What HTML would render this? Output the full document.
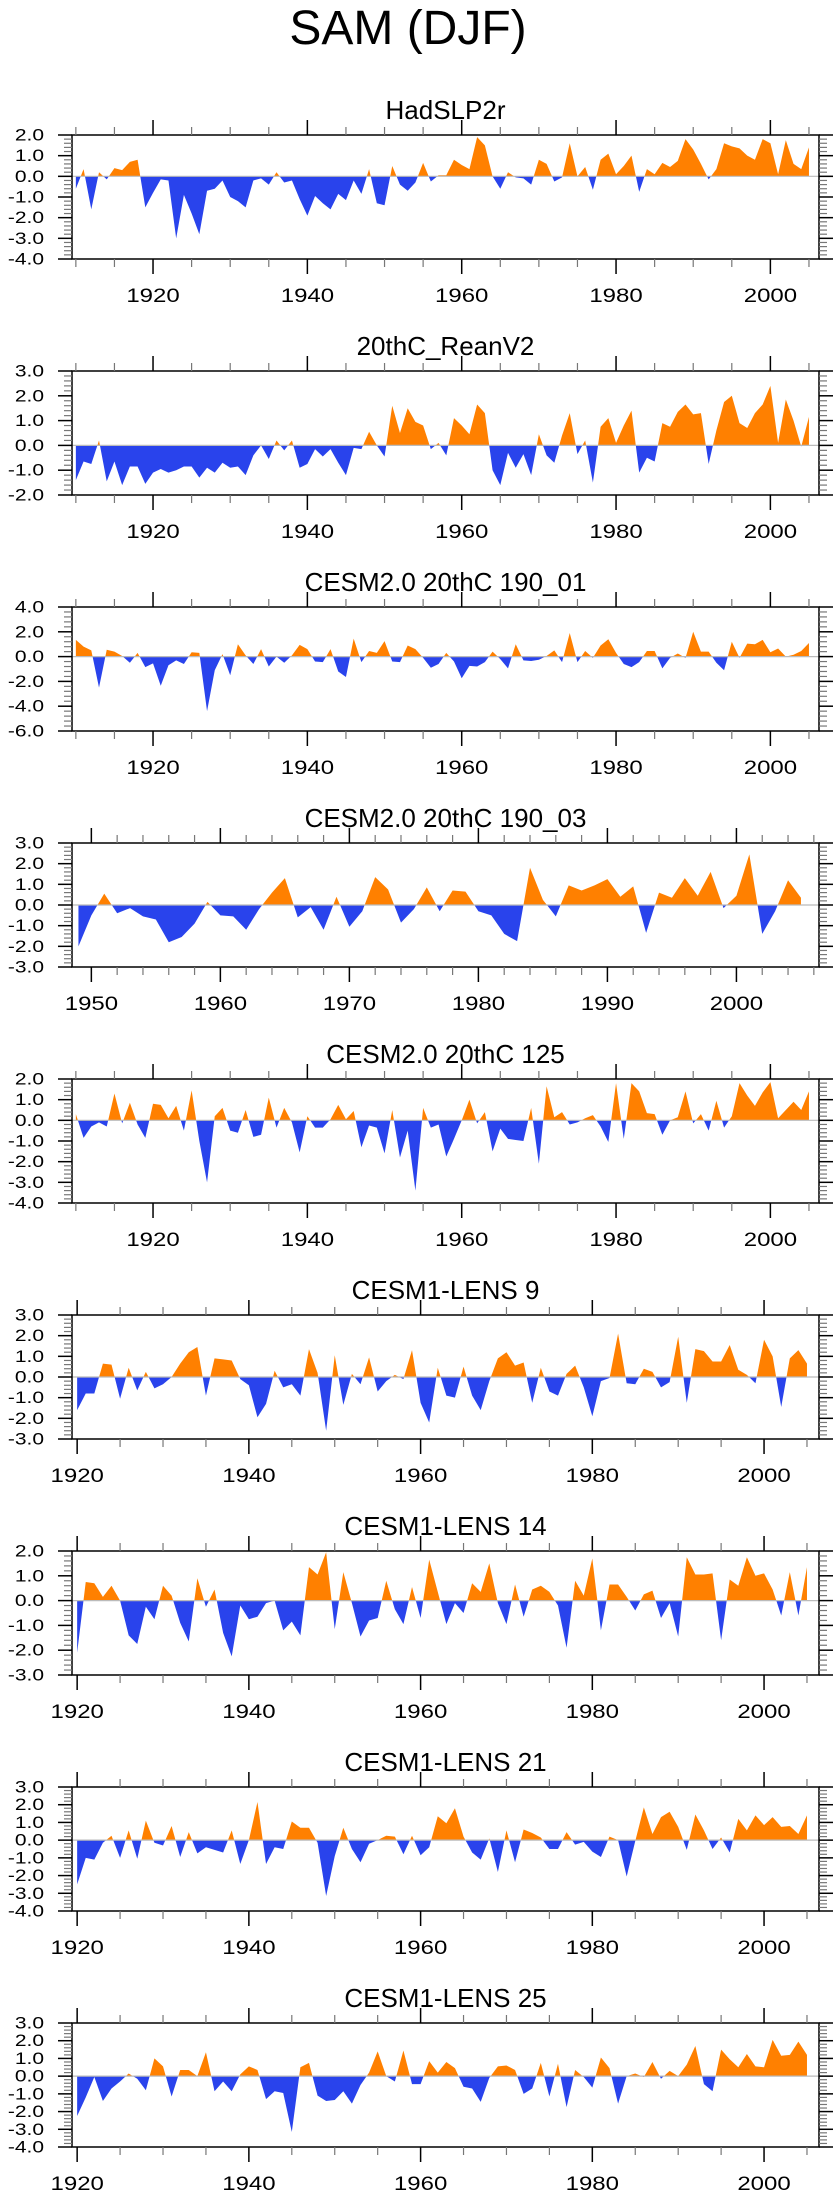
<!DOCTYPE html>
<html><head><meta charset="utf-8">
<style>
html,body{margin:0;padding:0;background:#fff;}
svg{display:block;font-family:"Liberation Sans",Arial,sans-serif;}
</style></head>
<body>
<svg id="chart" width="840" height="2200" viewBox="0 0 840 2200" xmlns="http://www.w3.org/2000/svg">
<text x="408" y="44" font-size="48" text-anchor="middle" fill="#000">SAM (DJF)</text>
</svg>
<script>
// ---- data (index values by year) ----
const hadslp2rStart = 1910;
const hadslp2r = [-0.6,0.35,-1.6,0.2,-0.15,0.4,0.3,0.7,0.8,-1.5,-0.8,-0.15,-0.2,-3.0,-0.9,-1.8,-2.8,-0.7,-0.6,-0.2,-1.0,-1.2,-1.5,-0.2,-0.1,-0.4,0.2,-0.3,-0.2,-1.1,-1.9,-0.95,-1.3,-1.6,-0.85,-1.15,-0.2,-0.85,0.35,-1.3,-1.4,0.5,-0.4,-0.7,-0.3,0.65,-0.25,0.05,0.05,0.8,0.55,0.35,1.9,1.5,0.0,-0.6,0.2,-0.05,-0.1,-0.4,0.8,0.6,-0.25,-0.05,1.6,0.0,0.45,-0.65,0.8,1.1,0.1,0.5,1.0,-0.75,0.35,0.1,0.65,0.45,0.75,1.8,1.3,0.6,-0.15,0.35,1.6,1.45,1.35,1.0,0.8,1.8,1.6,0.1,1.75,0.6,0.35,1.4];
const reanV2Start = 1910;
const reanV2 = [-1.4,-0.65,-0.75,0.2,-1.45,-0.65,-1.6,-0.85,-0.85,-1.55,-1.1,-0.95,-1.1,-1.0,-0.85,-0.85,-1.3,-0.9,-1.1,-0.7,-0.9,-0.85,-1.2,-0.4,0.0,-0.55,0.2,-0.2,0.2,-0.9,-0.75,-0.15,-0.45,-0.15,-0.7,-1.2,-0.1,-0.15,0.55,0.0,-0.45,1.6,0.5,1.5,0.95,0.8,-0.15,0.1,-0.4,1.1,0.8,0.45,1.65,1.3,-1.0,-1.6,-0.3,-0.9,-0.35,-1.2,0.45,-0.4,-0.7,0.4,1.3,-0.35,0.2,-1.5,0.75,1.1,0.1,0.8,1.4,-1.1,-0.5,-0.65,0.9,0.75,1.35,1.65,1.25,1.3,-0.75,0.6,1.75,2.0,0.9,0.7,1.3,1.65,2.4,0.1,1.85,1.0,-0.05,1.15];
const cesm2r01Start = 1910;
const cesm2r01 = [1.35,0.8,0.5,-2.5,0.55,0.4,0.05,-0.5,0.3,-0.85,-0.55,-2.35,-0.7,-0.3,-0.6,0.35,0.3,-4.4,-1.1,0.2,-1.5,1.0,0.1,-0.6,0.6,-0.8,0.0,-0.5,0.1,0.95,0.6,-0.4,-0.45,0.6,-1.2,-1.65,1.45,-0.45,0.45,0.3,1.25,-0.4,-0.45,0.9,0.6,-0.1,-0.9,-0.6,0.3,-0.4,-1.75,-0.75,-0.8,-0.45,0.4,-0.2,-0.95,1.0,-0.3,-0.35,-0.25,0.05,0.5,-0.45,1.9,-0.45,0.45,-0.1,0.9,1.4,0.3,-0.6,-0.85,-0.45,0.45,0.45,-0.95,-0.1,0.25,-0.1,2.0,0.4,0.4,-0.5,-1.1,1.2,-0.1,1.05,1.0,1.35,0.35,0.65,0.0,0.15,0.45,1.1];
const cesm2r03Start = 1949;
const cesm2r03 = [-2.0,-0.5,0.55,-0.4,-0.15,-0.55,-0.7,-1.8,-1.55,-0.9,0.15,-0.5,-0.55,-1.2,-0.2,0.6,1.3,-0.6,-0.1,-1.2,0.4,-1.05,-0.3,1.35,0.75,-0.85,-0.2,0.85,-0.3,0.7,0.65,-0.3,-0.5,-1.4,-1.75,1.8,0.25,-0.55,0.95,0.7,0.95,1.25,0.4,0.9,-1.35,0.6,0.35,1.3,0.45,1.6,-0.15,0.45,2.45,-1.4,-0.3,1.2,0.35];
const cesm2m125Start = 1910;
const cesm2m125 = [0.3,-0.85,-0.3,-0.1,-0.3,1.3,-0.15,0.85,-0.2,-0.85,0.8,0.75,0.1,0.7,-0.5,1.45,-1.0,-3.0,0.2,0.6,-0.5,-0.6,0.5,-0.8,-0.7,1.1,-0.35,0.6,-0.1,-1.55,0.2,-0.35,-0.35,0.05,0.75,0.05,0.45,-1.3,-0.25,-0.35,-1.6,0.5,-1.8,-0.5,-3.4,0.6,-0.35,-0.2,-1.75,-0.9,0.0,1.0,-0.15,0.4,-1.5,-0.4,-0.9,-0.95,-1.0,0.6,-2.1,1.65,0.15,0.4,-0.2,-0.1,0.1,0.25,-0.3,-1.05,1.8,-0.9,1.8,1.4,0.35,0.3,-0.7,0.0,0.15,1.4,-0.15,0.3,-0.5,0.95,-0.35,0.2,1.8,1.2,0.7,1.35,1.85,0.1,0.5,0.9,0.5,1.4];
const lens9Start = 1920;
const lens9 = [-1.6,-0.8,-0.8,0.65,0.6,-1.05,0.45,-0.65,0.25,-0.55,-0.35,0.0,0.65,1.2,1.45,-0.9,0.9,0.85,0.8,-0.1,-0.4,-1.95,-1.3,0.3,-0.5,-0.35,-0.9,1.35,0.2,-2.6,1.05,-1.35,0.15,-0.35,0.95,-0.7,-0.2,0.1,-0.1,1.3,-1.25,-2.2,0.45,-0.9,-1.0,0.5,-0.9,-1.6,-0.2,0.9,1.2,0.55,0.7,-1.25,0.45,-0.7,-0.9,0.15,0.55,-0.5,-1.9,-0.2,-0.05,2.1,-0.3,-0.35,0.4,0.25,-0.5,-0.25,1.95,-1.25,1.35,1.25,0.75,0.75,1.55,0.35,0.1,-0.3,1.8,1.0,-1.45,0.9,1.3,0.65];
const lens14Start = 1920;
const lens14 = [-2.1,0.75,0.7,0.15,0.6,0.0,-1.4,-1.75,-0.25,-0.75,0.6,0.2,-0.9,-1.65,0.9,-0.25,0.45,-1.3,-2.25,-0.2,-0.75,-0.65,-0.1,0.0,-1.2,-0.85,-1.4,1.35,1.05,1.95,-1.15,1.15,-0.1,-1.45,-0.8,-0.7,0.8,-0.35,-0.95,0.55,-0.7,1.65,0.35,-0.95,-0.1,-0.5,0.7,0.35,1.5,-0.1,-0.95,0.65,-0.65,0.45,0.6,0.35,-0.2,-1.9,0.8,0.2,1.7,-1.2,0.65,0.65,0.15,-0.4,0.25,0.4,-0.7,-0.1,-1.45,1.75,1.05,1.05,1.1,-1.6,0.85,0.6,1.75,1.0,1.1,0.45,-0.6,1.15,-0.6,1.35];
const lens21Start = 1920;
const lens21 = [-2.5,-1.0,-1.1,-0.15,0.25,-1.0,0.55,-1.05,1.1,-0.15,-0.3,0.8,-0.95,0.45,-0.75,-0.4,-0.55,-0.7,0.55,-1.35,0.0,2.15,-1.35,-0.4,-0.5,1.05,0.7,0.7,-0.15,-3.15,-0.9,0.7,-0.5,-1.25,-0.2,0.0,0.25,0.2,-0.8,0.25,-0.85,-0.4,1.35,0.95,1.8,0.2,-0.7,-1.1,0.1,-1.8,0.55,-1.25,0.6,0.4,0.15,-0.5,-0.5,0.45,-0.25,-0.1,-0.65,-0.95,0.2,0.0,-2.05,-0.05,1.85,0.35,1.3,1.6,0.75,-0.55,1.45,0.55,-0.5,0.15,-0.7,1.2,0.55,1.4,0.85,1.3,0.75,0.8,0.35,1.4];
const lens25Start = 1920;
const lens25 = [-2.25,-1.2,-0.05,-1.4,-0.7,-0.3,0.15,-0.15,-0.8,1.0,0.55,-1.15,0.35,0.35,0.0,1.35,-0.85,-0.3,-0.85,0.1,0.55,0.35,-1.3,-0.85,-0.95,-3.15,0.5,0.75,-1.1,-1.4,-1.35,-0.85,-1.55,-0.5,0.2,1.4,0.0,-0.3,1.45,-0.45,-0.45,0.85,0.2,0.8,0.45,-0.6,-0.7,-1.45,-0.1,0.55,0.6,0.35,-1.0,-0.7,0.75,-1.15,0.7,-1.75,0.35,-0.05,-0.65,1.05,0.45,-1.55,0.0,0.15,-0.05,0.8,-0.15,0.3,0.0,0.65,1.7,-0.45,-0.85,1.5,0.95,0.5,1.25,0.55,0.5,2.05,1.15,1.2,1.95,1.2];

const panelTitles = ["HadSLP2r","20thC_ReanV2","CESM2.0 20thC 190_01","CESM2.0 20thC 190_03","CESM2.0 20thC 125","CESM1-LENS 9","CESM1-LENS 14","CESM1-LENS 21","CESM1-LENS 25"];
const yMins = [-4,-2,-6,-3,-4,-3,-3,-4,-4];
const yMaxs = [2,3,4,3,2,3,2,3,3];
const yMajorSteps = [1,1,2,1,1,1,1,1,1];
const xMins = [1909.5,1909.5,1909.5,1948.5,1909.5,1919.4,1919.4,1919.4,1919.4];
const xMaxs = [2006.3,2006.3,2006.3,2006.4,2006.3,2006.4,2006.4,2006.4,2006.4];
const xMajorSteps = [20,20,20,10,20,20,20,20,20];
const xMinorSteps = [5,5,5,2,5,5,5,5,5];
const seriesList = [hadslp2r,reanV2,cesm2r01,cesm2r03,cesm2m125,lens9,lens14,lens21,lens25];
const startYears = [hadslp2rStart,reanV2Start,cesm2r01Start,cesm2r03Start,cesm2m125Start,lens9Start,lens14Start,lens21Start,lens25Start];

const NS = "http://www.w3.org/2000/svg";
const svg = document.getElementById("chart");
const BOX_L = 72, BOX_R = 819, BOX_H = 124, TOP0 = 135, GAP = 236;
const POS = "#ff8000", NEG = "#2943ec";

function mk(tag, attrs, parent){
  const e = document.createElementNS(NS, tag);
  for (const k in attrs) e.setAttribute(k, attrs[k]);
  (parent||svg).appendChild(e);
  return e;
}
function slug(s){return s.toLowerCase().replace(/[^a-z0-9]+/g,'-').replace(/^-|-$/g,'');}

for (let p = 0; p < 9; p++) {
  const top = TOP0 + GAP*p, bot = top + BOX_H;
  const xmin = xMins[p], xmax = xMaxs[p], ymin = yMins[p], ymax = yMaxs[p];
  const xs = v => BOX_L + (v - xmin) / (xmax - xmin) * (BOX_R - BOX_L);
  const ys = v => bot - (v - ymin) / (ymax - ymin) * BOX_H;
  const g = mk("g", {});
  
  

  const t = mk("text", {x: 445.5, y: top - 16, "font-size": 26, "text-anchor": "middle", fill: "#000"}, g);
  t.textContent = panelTitles[p];
  
  

  const y0 = ys(0);
  const cidA = "ca" + p, cidB = "cb" + p;
  const defs = mk("defs", {}, g);
  const cA = mk("clipPath", {id: cidA}, defs);
  mk("rect", {x: BOX_L, y: top, width: BOX_R - BOX_L, height: y0 - top}, cA);
  const cB = mk("clipPath", {id: cidB}, defs);
  mk("rect", {x: BOX_L, y: y0, width: BOX_R - BOX_L, height: bot - y0}, cB);

  const vals = seriesList[p], sy = startYears[p];
  let d = "M" + xs(sy).toFixed(2) + "," + y0.toFixed(2);
  for (let i = 0; i < vals.length; i++) d += " L" + xs(sy + i).toFixed(2) + "," + ys(vals[i]).toFixed(2);
  d += " L" + xs(sy + vals.length - 1).toFixed(2) + "," + y0.toFixed(2) + " Z";
  const pa = mk("path", {d: d, fill: POS, "clip-path": "url(#" + cidA + ")"}, g);
  
  
  const pb = mk("path", {d: d, fill: NEG, "clip-path": "url(#" + cidB + ")"}, g);
  
  

  const zl = mk("line", {x1: BOX_L, x2: BOX_R, y1: y0, y2: y0, stroke: "#bbbbbb", "stroke-width": 1.2}, g);
  
  

  const box = mk("rect", {x: BOX_L, y: top, width: BOX_R - BOX_L, height: BOX_H, fill: "none", stroke: "#000", "stroke-width": 1.5}, g);
  
  

  const ym = yMajorSteps[p], yminor = ym / 5;
  for (let k = 0; ymin + k*yminor <= ymax + 1e-9; k++) {
    const v = ymin + k*yminor, yy = ys(v);
    const major = (k % 5 === 0);
    const len = major ? 14 : 8;
    mk("line", {x1: BOX_L - len, x2: BOX_L, y1: yy, y2: yy, stroke: major ? "#000" : "#777", "stroke-width": major ? 1.5 : 1.2}, g);
    mk("line", {x1: BOX_R, x2: BOX_R + len, y1: yy, y2: yy, stroke: major ? "#000" : "#777", "stroke-width": major ? 1.5 : 1.2}, g);
    if (major) {
      const lb = mk("text", {"font-size": 21, "text-anchor": "end", fill: "#000", transform: "translate(44," + (yy + 5.5).toFixed(1) + ") scale(1,0.8)"}, g);
      lb.textContent = v.toFixed(1);
      
      
    }
  }
  const xm = xMajorSteps[p], xn = xMinorSteps[p];
  for (let yr = Math.ceil(xmin / xn) * xn; yr <= xmax; yr += xn) {
    const xx = xs(yr), major = (yr % xm === 0);
    const len = major ? 15 : 8;
    mk("line", {x1: xx, x2: xx, y1: top - len, y2: top, stroke: major ? "#000" : "#777", "stroke-width": major ? 1.5 : 1.2}, g);
    mk("line", {x1: xx, x2: xx, y1: bot, y2: bot + len, stroke: major ? "#000" : "#777", "stroke-width": major ? 1.5 : 1.2}, g);
    if (major) {
      const lb = mk("text", {"font-size": 24, "text-anchor": "middle", fill: "#000", transform: "translate(" + xx.toFixed(1) + "," + (top + 167) + ") scale(1,0.8)"}, g);
      lb.textContent = String(yr);
      
      
    }
  }
}
</script>
</body></html>
